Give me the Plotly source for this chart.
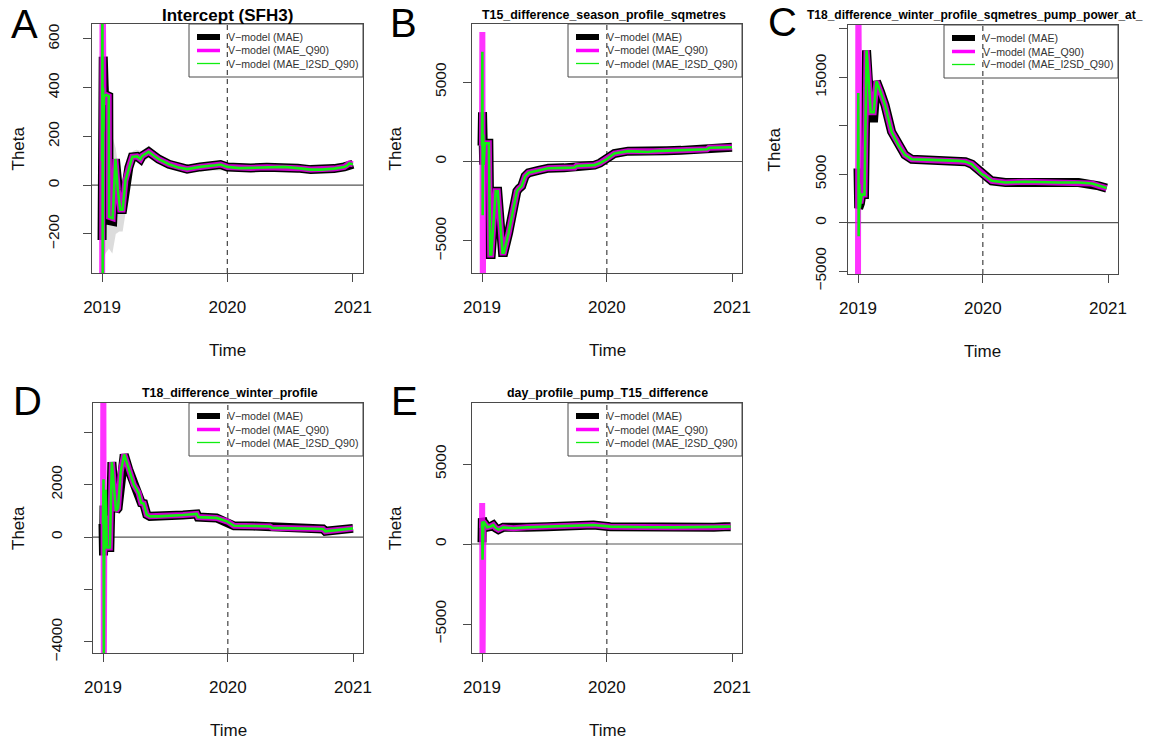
import plotly.graph_objects as go
import pandas as pd

# ------------------------------------------------------------------ data
BASE_DATE = "2019-01-01"
X_TICK_DATES = ["2019-01-01", "2020-01-01", "2021-01-01"]
X_TICK_TEXT = ["2019", "2020", "2021"]
BREAK_DATE = "2020-01-01"
SERIES_NAMES = ["V\u2212model (MAE)", "V\u2212model (MAE_Q90)", "V\u2212model (MAE_I2SD_Q90)"]

# Panel A : Intercept (SFH3)   (x = days since 2019-01-01)
A_mae_days = [0, 1, 3.5, 5.5, 7, 12, 19.5, 20.5, 31, 39, 46, 53, 60, 68, 78, 88, 102, 112, 117, 136, 150, 165,
              195, 220, 248, 286, 330, 345, 365, 400, 433, 480, 530, 570, 608, 640, 676, 706, 714, 720, 731]
A_mae = [-225, 150, 527, 290, 368, 370, 365, -145, -148, 107, -20, -100, -100, 18, 72, 116, 118, 107, 120, 137,
         122, 107, 86, 74, 66, 75, 82, 85, 75, 70, 71, 74, 75, 70, 64, 64, 68, 75, 80, 89, 86]
A_q90_days = [0, 1.5, 3, 4.5, 7, 12, 19.5, 20.5, 31, 39, 46, 53, 60, 68, 78, 88, 102, 112, 117, 136, 150, 165,
              195, 220, 248, 286, 330, 345, 365, 400, 433, 480, 530, 570, 608, 640, 676, 706, 714, 720, 731]
A_q90 = [-700, 900, 250, 330, 368, 370, 365, -130, -135, 107, -20, -100, -100, 18, 72, 116, 118, 107, 120, 137,
         122, 107, 86, 74, 66, 75, 82, 85, 75, 70, 71, 74, 75, 70, 64, 64, 68, 75, 80, 89, 86]
A_i2sd_days = [0, 1, 2, 3, 4, 5.5, 7, 12, 19.5, 20.5, 31, 39, 46, 53, 60, 68, 78, 88, 102, 112, 117, 136, 150,
               165, 195, 220, 248, 286, 330, 345, 365, 400, 433, 480, 530, 570, 608, 640, 676, 706, 714, 720, 731]
A_i2sd = [100, 800, -500, 400, 220, 360, 365, 370, 365, -130, -135, 107, -20, -100, -100, 18, 72, 116, 118, 107,
          120, 137, 122, 107, 86, 74, 66, 75, 82, 85, 75, 70, 71, 74, 75, 70, 64, 64, 68, 75, 80, 89, 86]
A_band_days = [0, 5, 10, 20, 30, 40, 50, 60, 70, 80, 90, 100, 115, 136, 165, 200, 250, 300, 365, 450, 550, 650, 731]
A_band_hi = [500, 600, 430, 400, 200, 150, 40, 0, 80, 110, 140, 145, 140, 162, 128, 100, 82, 92, 90, 86, 86, 80, 100]
A_band_lo = [-300, -300, -280, -260, -280, -200, -190, -190, -100, 30, 90, 95, 90, 112, 88, 72, 52, 60, 60, 58, 60,
             52, 72]

# Panel B : T15_difference_season_profile_sqmetres
B_mae_days = [0, 1.5, 3, 5, 8, 14, 20, 24, 27, 40, 46, 60, 64, 78, 92, 102, 108, 116, 126, 136, 165, 194, 240, 271,
              276, 300, 329, 345, 365, 387, 427, 460, 485, 503, 540, 582, 640, 658, 664, 700, 718, 731]
B_mae = [1000, 3100, 800, -200, 1150, 1170, 1150, -5850, -5850, -1870, -1870, -5730, -5730, -4480, -2810, -1870,
         -1700, -1550, -920, -710, -560, -420, -400, -380, -280, -260, -230, -100, 150, 500, 650, 620, 600, 650, 680,
         700, 750, 770, 860, 860, 880, 900]
B_q90_days = [0, 1, 2.5, 4, 5.5, 8, 14, 20, 24, 27, 40, 46, 60, 64, 78, 92, 102, 108, 116, 126, 136, 165, 194, 240,
              271, 276, 300, 329, 345, 365, 387, 427, 460, 485, 503, 540, 582, 640, 658, 664, 700, 718, 731]
B_q90 = [1000, 8150, -9000, -200, 1150, 1150, 1170, 1150, -5850, -5850, -1870, -1870, -5730, -5730, -4480, -2810,
         -1870, -1700, -1550, -920, -710, -560, -420, -400, -380, -280, -260, -230, -100, 150, 500, 650, 620, 600, 650,
         680, 700, 750, 770, 860, 860, 880, 900]
B_i2sd_days = [0, 1, 2, 3.5, 5, 8, 14, 20, 24, 27, 40, 46, 60, 64, 78, 92, 102, 108, 116, 126, 136, 165, 194, 240,
               271, 276, 300, 329, 345, 365, 387, 427, 460, 485, 503, 540, 582, 640, 658, 664, 700, 718, 731]
B_i2sd = [1000, 6900, -3380, 1700, -200, 1150, 1170, 1150, -5850, -5850, -1870, -1870, -5730, -5730, -4480, -2810,
          -1870, -1700, -1550, -920, -710, -560, -420, -400, -380, -280, -260, -230, -100, 150, 500, 650, 620, 600,
          650, 680, 700, 750, 770, 860, 860, 880, 900]

# Panel C : T18_difference_winter_profile_sqmetres_pump_power_at_...
C_mae_days = [0, 2, 4, 7, 11, 19, 25, 30, 37, 46, 54, 66, 79, 98, 118, 137, 157, 215, 256, 295, 314, 333, 343, 362,
              372, 391, 431, 490, 587, 645, 684, 704, 727]
C_mae = [5600, 1500, 3500, 2000, 2900, 2900, 17800, 15500, 10800, 10800, 14600, 13500, 12140, 9400, 8020, 7000,
         6550, 6480, 6450, 6380, 6300, 6040, 5690, 5010, 4840, 4320, 4150, 4220, 4150, 4150, 4040, 3800, 3570]
C_q90_days = [0, 1, 2.5, 4, 7, 11, 19, 25, 30, 37, 46, 54, 66, 79, 98, 118, 137, 157, 215, 256, 295, 314, 333, 343,
              362, 372, 391, 431, 490, 587, 645, 684, 704, 727]
C_q90 = [-8000, 25000, 3500, 3500, 2000, 2900, 2900, 17800, 15500, 11400, 11400, 14600, 13500, 12140, 9400, 8020,
         7000, 6550, 6480, 6450, 6380, 6300, 6040, 5690, 5010, 4840, 4320, 4150, 4220, 4150, 4150, 4040, 3800, 3570]
C_i2sd_days = [0, 0.8, 2, 3.5, 5, 7, 11, 19, 25, 30, 37, 46, 54, 66, 79, 98, 118, 137, 157, 215, 256, 295, 314, 333,
               343, 362, 372, 391, 431, 490, 587, 645, 684, 704, 727]
C_i2sd = [5600, 13400, -1400, 4000, 1500, 2000, 2900, 2900, 17800, 15500, 11400, 11400, 14600, 13500, 12140, 9400,
          8020, 7000, 6550, 6480, 6450, 6380, 6300, 6040, 5690, 5010, 4840, 4320, 4150, 4220, 4150, 4150, 4040, 3800,
          3570]

# Panel D : T18_difference_winter_profile
D_mae_days = [0, 1.5, 3, 5, 8, 11, 16, 20, 26, 31, 38, 44, 52, 62, 75, 90, 104, 112, 119, 128, 137, 163, 234, 274,
              278, 332, 364, 383, 439, 488, 495, 575, 643, 650, 702, 731]
D_mae = [500, -700, 1200, -300, 800, -400, -400, -400, 2860, 2000, 1000, 1100, 2500, 3150, 2580, 2000, 1690, 1300,
         1280, 855, 790, 790, 840, 880, 760, 730, 590, 430, 420, 400, 350, 330, 310, 220, 300, 330]
D_q90_days = [0, 1, 2.5, 4, 8, 11, 16, 20, 26, 31, 38, 44, 52, 62, 75, 90, 104, 112, 119, 128, 137, 163, 234, 274,
              278, 332, 364, 383, 439, 488, 495, 575, 643, 650, 702, 731]
D_q90 = [500, 6000, -5000, 800, 600, -400, -400, -400, 2860, 2000, 1000, 1100, 2500, 3150, 2580, 2000, 1690, 1300,
         1280, 855, 790, 790, 840, 880, 760, 730, 590, 430, 420, 400, 350, 330, 310, 220, 300, 330]
D_i2sd_days = [0, 1.5, 2.5, 4, 6, 8, 11, 16, 20, 26, 31, 38, 44, 52, 62, 75, 90, 104, 112, 119, 128, 137, 163, 234,
               274, 278, 332, 364, 383, 439, 488, 495, 575, 643, 650, 702, 731]
D_i2sd = [500, 2200, -5000, 1200, -300, 1800, -400, -400, -400, 2860, 2000, 1000, 1100, 2500, 3150, 2580, 2000,
          1690, 1300, 1280, 855, 790, 790, 840, 880, 760, 730, 590, 430, 420, 400, 350, 330, 310, 220, 300, 330]

# Panel E : day_profile_pump_T15_difference
E_mae_days = [0, 1, 2.5, 4, 8, 15, 25, 33, 40, 48, 62, 92, 130, 190, 260, 326, 375, 420, 483, 560, 678, 710, 727]
E_mae = [100, 1600, 300, 1400, 1300, 1050, 1100, 1190, 1000, 900, 1040, 980, 1040, 1085, 1150, 1190, 1085, 1060,
         1050, 1040, 1050, 1080, 1085]
E_q90_days = [0, 0.5, 1.5, 3, 4, 8, 15, 25, 33, 40, 48, 62, 92, 130, 190, 260, 326, 375, 420, 483, 560, 678, 710, 727]
E_q90 = [1000, 2560, -8000, 1300, 1400, 1300, 1050, 1100, 1190, 1000, 900, 1040, 980, 1040, 1085, 1150, 1190, 1085,
         1060, 1050, 1040, 1050, 1080, 1085]
E_i2sd_days = [0, 0.5, 1.5, 3, 4, 8, 15, 25, 33, 40, 48, 62, 92, 130, 190, 260, 326, 375, 420, 483, 560, 678, 710,
               727]
E_i2sd = [1000, 1400, -980, 1300, 1400, 1300, 1050, 1100, 1190, 1000, 900, 1040, 980, 1040, 1085, 1150, 1190, 1085,
          1060, 1050, 1040, 1050, 1080, 1085]

# y-axis ticks per panel
A_yticks = [-200, 0, 200, 400, 600]
A_yticktext = ["\u2212200", "0", "200", "400", "600"]
B_yticks = [-5000, 0, 5000]
B_yticktext = ["\u22125000", "0", "5000"]
C_yticks = [-5000, 0, 5000, 10000, 15000, 20000]
C_yticktext = ["\u22125000", "0", "5000", "", "15000", ""]
D_yticks = [-4000, -2000, 0, 2000, 4000]
D_yticktext = ["\u22124000", "", "0", "2000", ""]
E_yticks = [-5000, 0, 5000]
E_yticktext = ["\u22125000", "0", "5000"]

# ------------------------------------------------------------------ layout / style
W, H = 1151, 743
FONT = "Liberation Sans, Arial, sans-serif"
AXIS_COL = "#4a4a4a"
COLORS = ["#000000", "#ff00ff", "#10ee10"]
WIDTHS = [9, 6, 2.6]
OPACITY = [1.0, 0.8, 1.0]
LEG_WIDTHS = [6, 3.5, 1.3]
X_RANGE = ["2018-12-02 18:00", "2021-01-30 06:00"]

panels = [
    dict(letter="A", title="Intercept (SFH3)", tsize=17, tx=227, ty=15, tanchor="center", letter_xy=(24, 24),
         box=(92, 363, 24, 273), yr=[-360, 661], yt=A_yticks, ytt=A_yticktext, theta_x=18, ystand=18,
         series=[(A_mae_days, A_mae), (A_q90_days, A_q90), (A_i2sd_days, A_i2sd)],
         band=(A_band_days, A_band_lo, A_band_hi)),
    dict(letter="B", title="T15_difference_season_profile_sqmetres", tsize=12.4, tx=604, ty=15, tanchor="center",
         letter_xy=(403, 23), box=(472, 742, 24, 273), yr=[-7013, 8648], yt=B_yticks, ytt=B_yticktext, theta_x=395,
         ystand=11, series=[(B_mae_days, B_mae), (B_q90_days, B_q90), (B_i2sd_days, B_i2sd)], band=None),
    dict(letter="C", title="T18_difference_winter_profile_sqmetres_pump_power_at_", tsize=12, tx=805, ty=15,
         tanchor="left", letter_xy=(782, 22), box=(848, 1118, 25, 274), yr=[-5300, 20411], yt=C_yticks,
         ytt=C_yticktext, theta_x=774, ystand=7,
         series=[(C_mae_days, C_mae), (C_q90_days, C_q90), (C_i2sd_days, C_i2sd)], band=None),
    dict(letter="D", title="T18_difference_winter_profile", tsize=12.4, tx=230, ty=393, tanchor="center",
         letter_xy=(27, 401), box=(93, 363, 403, 653), yr=[-4421, 5111], yt=D_yticks, ytt=D_yticktext, theta_x=18,
         ystand=16, series=[(D_mae_days, D_mae), (D_q90_days, D_q90), (D_i2sd_days, D_i2sd)], band=None),
    dict(letter="E", title="day_profile_pump_T15_difference", tsize=12.4, tx=607, ty=393, tanchor="center",
         letter_xy=(404, 401), box=(472, 742, 403, 653), yr=[-6812, 8812], yt=E_yticks, ytt=E_yticktext,
         theta_x=395, ystand=11,
         series=[(E_mae_days, E_mae), (E_q90_days, E_q90), (E_i2sd_days, E_i2sd)], band=None),
]


def to_dates(days):
    return pd.Timestamp(BASE_DATE) + pd.to_timedelta(pd.Series(days, dtype=float), unit="D")


def px(x):
    return x / W


def py(y):
    return 1 - y / H


fig = go.Figure()
shapes, annotations = [], []

for i, p in enumerate(panels, start=1):
    xa = "x" if i == 1 else f"x{i}"
    ya = "y" if i == 1 else f"y{i}"
    x0, x1, y0, y1 = p["box"]

    if p["band"] is not None:
        bd, blo, bhi = p["band"]
        dates = to_dates(bd)
        fig.add_trace(go.Scatter(x=dates, y=blo, mode="lines", line=dict(width=0), xaxis=xa, yaxis=ya,
                                 hoverinfo="skip", showlegend=False))
        fig.add_trace(go.Scatter(x=dates, y=bhi, mode="lines", line=dict(width=0), fill="tonexty",
                                 fillcolor="rgba(185,185,185,0.5)", xaxis=xa, yaxis=ya, hoverinfo="skip",
                                 showlegend=False))

    for k, (d, v) in enumerate(p["series"]):
        fig.add_trace(go.Scatter(x=to_dates(d), y=v, mode="lines", name=SERIES_NAMES[k], opacity=OPACITY[k],
                                 line=dict(color=COLORS[k], width=WIDTHS[k]), xaxis=xa, yaxis=ya,
                                 showlegend=False))

    xkey = "xaxis" if i == 1 else f"xaxis{i}"
    ykey = "yaxis" if i == 1 else f"yaxis{i}"
    fig.layout[xkey] = dict(domain=[px(x0), px(x1)], anchor=ya, type="date", range=X_RANGE,
                            tickvals=X_TICK_DATES, ticktext=X_TICK_TEXT, ticks="outside", ticklen=8,
                            tickcolor=AXIS_COL, showline=True, mirror=True, linecolor=AXIS_COL, linewidth=1,
                            showgrid=False, zeroline=False, tickfont=dict(family=FONT, size=17, color="#111"),
                            ticklabelstandoff=11, fixedrange=True, automargin=False)
    fig.layout[ykey] = dict(domain=[py(y1), py(y0)], anchor=xa, range=p["yr"], tickvals=p["yt"],
                            ticktext=p["ytt"], tickangle=-90, ticks="outside", ticklen=8, tickcolor=AXIS_COL,
                            showline=True, mirror=True, linecolor=AXIS_COL, linewidth=1, showgrid=False,
                            zeroline=False, tickfont=dict(family=FONT, size=15.5, color="#111"),
                            ticklabelstandoff=p["ystand"], fixedrange=True, automargin=False)

    # zero line and 2020 dashed line
    shapes.append(dict(type="line", xref=f"{xa} domain", x0=0, x1=1, yref=ya, y0=0, y1=0,
                       line=dict(color="#555555", width=1.2), layer="below"))
    shapes.append(dict(type="line", xref=xa, x0=BREAK_DATE, x1=BREAK_DATE, yref=f"{ya} domain", y0=0, y1=1,
                       line=dict(color="#444444", width=1.2, dash="5px,4px"), layer="below"))

    # legend box (top-right of the panel)
    lw, lh = 174, 53
    lx0, ly0 = x1 - lw, y0
    shapes.append(dict(type="rect", xref="paper", yref="paper", x0=px(lx0), x1=px(x1), y0=py(ly0 + lh),
                       y1=py(ly0), line=dict(color=AXIS_COL, width=1), fillcolor="rgba(0,0,0,0)"))
    for k, off in enumerate([13, 26.5, 39.5]):
        shapes.append(dict(type="line", xref="paper", yref="paper", x0=px(lx0 + 8), x1=px(lx0 + 31),
                           y0=py(ly0 + off), y1=py(ly0 + off), line=dict(color=COLORS[k], width=LEG_WIDTHS[k])))
        annotations.append(dict(text=SERIES_NAMES[k], xref="paper", yref="paper", x=px(lx0 + 37),
                                y=py(ly0 + off), xanchor="left", yanchor="middle", showarrow=False,
                                font=dict(family=FONT, size=10.6, color="#333")))

    # titles, letters, axis labels
    annotations.append(dict(text=p["title"], xref="paper", yref="paper", x=px(p["tx"]), y=py(p["ty"]),
                            xanchor=p["tanchor"], yanchor="middle", showarrow=False,
                            font=dict(family=FONT, size=p["tsize"], color="#000", weight="bold")))
    lxp, lyp = p["letter_xy"]
    annotations.append(dict(text=p["letter"], xref="paper", yref="paper", x=px(lxp), y=py(lyp),
                            xanchor="center", yanchor="middle", showarrow=False,
                            font=dict(family=FONT, size=40, color="#000")))
    annotations.append(dict(text="Time", xref="paper", yref="paper", x=px((x0 + x1) / 2), y=py(y1 + 77),
                            xanchor="center", yanchor="middle", showarrow=False,
                            font=dict(family=FONT, size=17, color="#111")))
    annotations.append(dict(text="Theta", xref="paper", yref="paper", x=px(p["theta_x"]), y=py((y0 + y1) / 2),
                            xanchor="center", yanchor="middle", textangle=-90, showarrow=False,
                            font=dict(family=FONT, size=17, color="#111")))

fig.update_layout(width=W, height=H, margin=dict(l=0, r=0, t=0, b=0, pad=0), paper_bgcolor="white",
                  plot_bgcolor="white", showlegend=False, shapes=shapes, annotations=annotations,
                  font=dict(family=FONT))

fig.write_html("out.html", post_script="document.body.style.margin='0';document.body.style.overflow='hidden';")
